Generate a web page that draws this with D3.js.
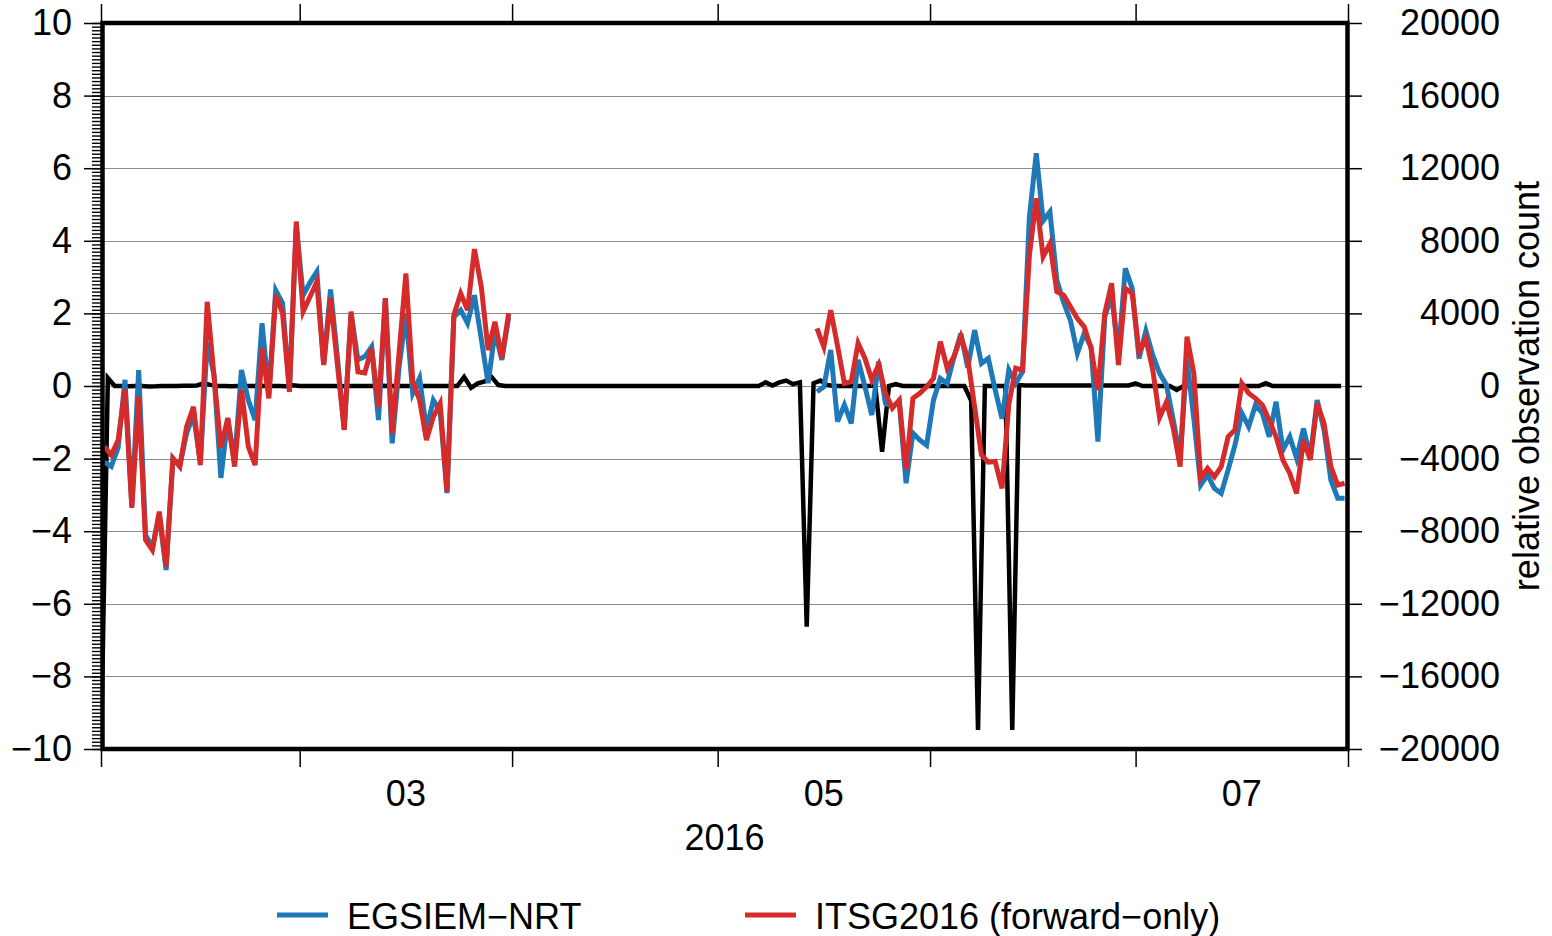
<!DOCTYPE html>
<html><head><meta charset="utf-8">
<script src="https://cdn.jsdelivr.net/npm/d3@7"></script>
<style>
body{margin:0;background:#fff;}
svg text{font-family:"Liberation Sans", Arial, Helvetica, sans-serif;fill:#000;}
</style></head><body>
<svg id="chart" width="1552" height="936"></svg>
<script>
// ---------- data (daily, starting 2016-02-01) ----------
const startDay = Date.UTC(2016, 1, 1);
const endDay = Date.UTC(2016, 7, 1);

// EGSIEM-NRT (left axis), daily values, null = no solution
const egsiem = [
 -2.1, -2.22, -1.7, 0.17, -3.3, 0.44, -4.1, -4.45, -3.55, -5.07,
 -2.0, -2.2, -1.3, -0.8, -2.1, 1.2, 0.3, -2.53, -0.9, -2.1,
 0.44, -0.39, -0.94, 1.73, -0.2, 2.64, 2.28, -0.1, 4.4, 2.5,
 2.85, 3.15, 0.6, 2.66, 0.8, -1.2, 2.0, 0.72, 0.81, 1.08,
 -0.94, 2.42, -1.58, 0.5, 2.0, -0.2, 0.22, -1.2, -0.39, -0.7,
 -2.95, 1.9, 2.09, 1.73, 2.5, 1.3, 0.08, 1.5, 0.72, 1.9,
 null, null, null, null, null, null, null, null, null, null,
 null, null, null, null, null, null, null, null, null, null,
 null, null, null, null, null, null, null, null, null, null,
 null, null, null, null, null, null, null, null, null, null,
 null, null, null, null,
 -0.16, -0.02, 0.99, -0.98, -0.52, -1.03, 0.72, -0.02, -0.8, 0.67,
 -0.48, -0.57, -0.43, -2.68, -1.3, -1.49, -1.63, -0.39, 0.21, 0.07,
 0.81, 1.45, 0.5, 1.54, 0.62, 0.76, -0.1, -0.9, 0.44, 0.07,
 0.4, 4.66, 6.41, 4.55, 4.8, 2.92, 2.3, 1.8, 0.9, 1.45,
 1.08, -1.53, 1.9, 2.5, 0.9, 3.24, 2.69, 0.76, 1.52, 0.85,
 0.35, 0.03, -0.94, -1.95, 0.72, -0.9, -2.73, -2.45, -2.82, -2.96,
 -2.31, -1.63, -0.75, -1.12, -0.52, -0.75, -1.4, -0.43, -1.76, -1.4,
 -1.99, -1.17, -1.95, -0.39, -1.21, -2.59, -3.09, -3.09
];

// ITSG2016 (forward-only) (left axis)
const itsg = [
 -1.67, -1.9, -1.49, -0.1, -3.36, -0.3, -4.24, -4.52, -3.46, -4.98,
 -1.99, -2.22, -1.12, -0.57, -2.18, 2.32, 0.26, -1.7, -0.88, -2.22,
 -0.1, -1.67, -2.18, 1.04, -0.34, 2.5, 2.0, -0.16, 4.53, 2.05,
 2.46, 2.87, 0.58, 2.42, 0.6, -1.21, 2.05, 0.39, 0.36, 1.04,
 -0.57, 2.42, -1.3, 0.9, 3.1, 0.12, -0.39, -1.49, -0.85, -0.48,
 -2.91, 1.96, 2.55, 2.09, 3.77, 2.74, 0.99, 1.77, 0.77, 2.0,
 null, null, null, null, null, null, null, null, null, null,
 null, null, null, null, null, null, null, null, null, null,
 null, null, null, null, null, null, null, null, null, null,
 null, null, null, null, null, null, null, null, null, null,
 null, null, null, null,
 1.59, 1.08, 2.09, 1.1, 0.07, 0.12, 1.18, 0.76, 0.17, 0.58,
 -0.2, -0.61, -0.39, -2.31, -0.34, -0.2, -0.02, 0.21, 1.22, 0.49,
 0.81, 1.36, 0.76, -0.57, -1.9, -2.1, -2.08, -2.82, -0.5, 0.49,
 0.44, 3.6, 5.17, 3.56, 3.93, 2.6, 2.5, 2.18, 1.86, 1.63,
 1.04, -0.11, 2.0, 2.83, 0.58, 2.69, 2.55, 0.94, 1.3, 0.45,
 -0.87, -0.44, -1.16, -2.22, 1.36, 0.35, -2.54, -2.27, -2.5, -2.22,
 -1.4, -1.21, 0.07, -0.2, -0.34, -0.52, -0.94, -1.4, -2.04, -2.41,
 -2.96, -1.49, -2.04, -0.48, -1.03, -2.22, -2.73, -2.68
];

// relative observation count (right axis), daily
const obsCount = [
 -20000, 440, 0, 0, -20, 0, 0, -30, -20, 0,
 0, 0, 10, 20, 30, 150, 60, 0, 0, -20,
 0, 0, 0, 10, 0, 0, 0, -10, 40, 0,
 0, 0, 0, 0, 0, -10, 0, 0, 0, 0,
 0, 10, 0, 0, 0, 0, 0, 0, 0, 0,
 0, 0, 0, 500, -100, 150, 250, 500, 50, 0,
 0, 0, 0, 0, 0, 0, 0, 0, 0, 0,
 0, 0, 0, 0, 0, 0, 0, 0, 0, 0,
 0, 0, 0, 0, 0, 0, 0, 0, 0, 0,
 0, 0, 0, 0, 0, 0, 0, 200, 30, 200,
 300, 100, 200, -13260, 150, 300, 50, 0, 0, 0,
 0, 0, 0, 30, -3620, 0, 100, 0, 0, 0,
 0, 0, 0, 0, 0, 0, 0, -800, -18950, 0,
 0, 0, 0, -18950, 50, 30, 30, 30, 30, 30,
 30, 30, 30, 30, 30, 30, 30, 30, 30, 30,
 30, 150, 0, 0, 0, 0, 0, -220, 0, 0,
 0, 0, 0, 0, 0, 0, 0, 0, 0, 0,
 150, 0, 0, 0, 0, 0, 0, 0, 0, 0,
 0, 0
];

const leftTicks = [-10, -8, -6, -4, -2, 0, 2, 4, 6, 8, 10];
const rightTicks = [-20000, -16000, -12000, -8000, -4000, 0, 4000, 8000, 12000, 16000, 20000];
const monthStarts = [Date.UTC(2016,1,1), Date.UTC(2016,2,1), Date.UTC(2016,3,1), Date.UTC(2016,4,1), Date.UTC(2016,5,1), Date.UTC(2016,6,1), Date.UTC(2016,7,1)];
const monthLabels = ["03", "05", "07"];
const monthLabelIdx = [1, 3, 5];
const yearLabel = "2016";
const seriesNames = ["EGSIEM−NRT", "ITSG2016 (forward−only)"];
const seriesColors = ["#1f78b8", "#d62b2b"];
const rightTitle = "relative observation count";

// ---------- layout ----------
const L = 101, R = 1348, T = 23, B = 749;
const svg = d3.select("#chart");
const x = d3.scaleUtc().domain([new Date(startDay), new Date(endDay)]).range([L, R]);
const y = d3.scaleLinear().domain([-10, 10]).range([B, T]);
const y2 = d3.scaleLinear().domain([-20000, 20000]).range([B, T]);
const fmt = d => d < 0 ? "\u2212" + Math.abs(d) : String(d);

const dayAt = (i, h) => new Date(startDay + i * 86400000 + h * 3600000);

svg.append("defs").append("clipPath").attr("id", "clip")
  .append("rect").attr("x", L).attr("y", T).attr("width", R - L).attr("height", B - T);

// grid
svg.append("g").selectAll("line").data(leftTicks).join("line")
  .attr("x1", L).attr("x2", R)
  .attr("y1", d => Math.round(y(d)) + 0.5).attr("y2", d => Math.round(y(d)) + 0.5)
  .attr("stroke", "#8c8c8c").attr("stroke-width", 1);

const plot = svg.append("g").attr("clip-path", "url(#clip)");

// black line (midnight epochs)
const lineObs = d3.line().x((d, i) => x(dayAt(i, 0))).y(d => y2(d));
plot.append("path").datum(obsCount).attr("d", lineObs)
  .attr("fill", "none").attr("stroke", "#000").attr("stroke-width", 4.5).attr("stroke-linejoin", "miter");

[egsiem, itsg].forEach((s, k) => {
  const pts = s.map((v, i) => ({v, i}));
  plot.append("path").datum(pts)
    .attr("d", d3.line().defined(d => d.v !== null).x(d => x(dayAt(d.i, 12))).y(d => y(d.v)))
    .attr("fill", "none").attr("stroke", seriesColors[k]).attr("stroke-width", 5)
    .attr("stroke-linejoin", "miter");
});

// axes
function styleAxis(g) {
  g.select(".domain").remove();
  g.selectAll(".tick line").attr("stroke", "#000").attr("stroke-width", 1.5);
  g.selectAll(".tick text").attr("font-size", 36).attr("fill", "#000")
   .attr("font-family", "'Liberation Sans', Arial, Helvetica, sans-serif");
}
// left minor ticks
const minorVals = d3.range(-100, 101).map(v => v / 10);
svg.append("g").attr("transform", `translate(${L},0)`)
  .call(d3.axisLeft(y).tickValues(minorVals).tickSize(9).tickFormat(""))
  .call(styleAxis).call(g => g.selectAll(".tick line").attr("stroke-width", 1.4));
// left major
svg.append("g").attr("transform", `translate(${L},0)`)
  .call(d3.axisLeft(y).tickValues(leftTicks).tickSize(17).tickPadding(12).tickFormat(fmt))
  .call(styleAxis);
// right
svg.append("g").attr("transform", `translate(${R},0)`)
  .call(d3.axisRight(y2).tickValues(rightTicks).tickSize(14).tickFormat(fmt))
  .call(styleAxis)
  .call(g => g.selectAll(".tick text").attr("text-anchor", "end").attr("x", 152));
// bottom
svg.append("g").attr("transform", `translate(0,${B + 2})`)
  .call(d3.axisBottom(x).tickValues(monthStarts.map(d => new Date(d))).tickSize(16).tickFormat(""))
  .call(styleAxis);
// top
svg.append("g").attr("transform", `translate(0,${T - 2})`)
  .call(d3.axisTop(x).tickValues(monthStarts.map(d => new Date(d))).tickSize(17).tickFormat(""))
  .call(styleAxis);

// month labels
svg.append("g").selectAll("text").data(monthLabels).join("text")
  .attr("x", (d, i) => (x(new Date(monthStarts[monthLabelIdx[i]])) + x(new Date(monthStarts[monthLabelIdx[i] + 1]))) / 2)
  .attr("y", 806).attr("text-anchor", "middle").attr("font-size", 36).text(d => d);
svg.append("text").attr("x", (L + R) / 2).attr("y", 850).attr("text-anchor", "middle")
  .attr("font-size", 36).text(yearLabel);

// right title
svg.append("text").attr("transform", "translate(1539,386) rotate(-90)")
  .attr("text-anchor", "middle").attr("font-size", 36).text(rightTitle);

// frame
const fr = svg.append("g").attr("stroke", "#000").attr("stroke-width", 4.5).attr("fill", "none");
fr.append("rect").attr("x", L + 1.5).attr("y", T).attr("width", R - L - 2).attr("height", B - T);

// legend
const legX = [277, 745];
seriesNames.forEach((n, k) => {
  svg.append("line").attr("x1", legX[k]).attr("x2", legX[k] + 51).attr("y1", 915).attr("y2", 915)
    .attr("stroke", seriesColors[k]).attr("stroke-width", 5);
  svg.append("text").attr("x", legX[k] + 70).attr("y", 929).attr("font-size", 36).text(n);
});
</script>
</body></html>
